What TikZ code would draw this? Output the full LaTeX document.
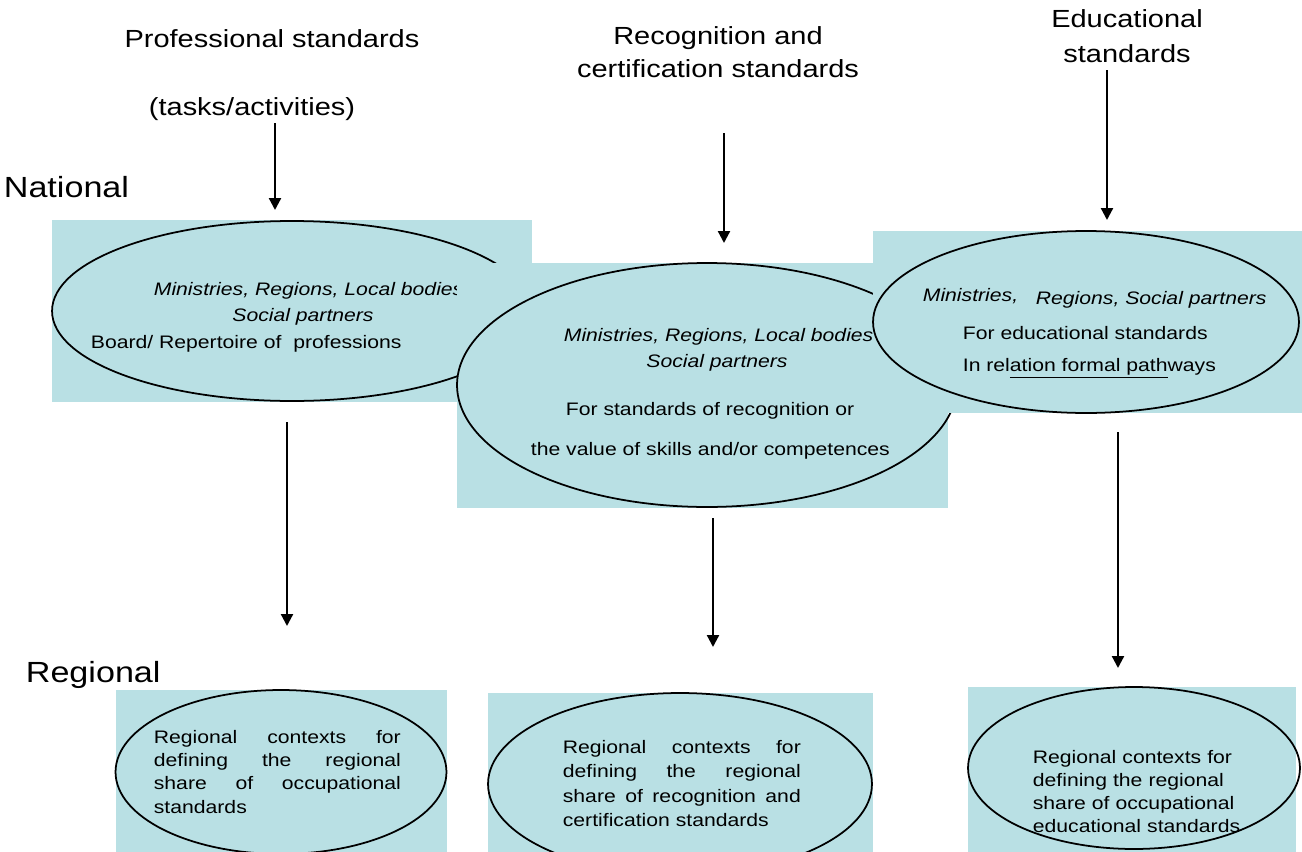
\documentclass[tikz,border=0pt]{standalone}
\usepackage{fontspec}
\setmainfont{Liberation Sans}[FakeStretch=1.17]
\usetikzlibrary{shapes.geometric,arrows.meta}
\definecolor{panelblue}{RGB}{185,224,228}
\tikzset{
every picture/.style={
line width=1pt
}}

\begin{document}
\begin{tikzpicture}[x=0.02cm, y=-0.02cm,
oval/.style = {ellipse, draw=black, inner sep=0pt},
head/.style = {font=\fontsize{14.1}{17}\selectfont, inner sep=0pt, anchor=base},
level/.style = {font=\fontsize{16.6}{20}\selectfont, inner sep=0pt, anchor=base west},
txt/.style = {font=\fontsize{10.3}{12.4}\selectfont, inner sep=0pt, anchor=base west},
who/.style = {txt, font=\fontsize{10.3}{12.4}\selectfont\itshape},
down/.style = {-{Triangle[width=0.24cm,length=0.24cm]}, line width=1.3pt}]

\useasboundingbox (0,0) rectangle (1302,852);

% column headings
\node[head] (prof) at (272,48) {Professional standards};
\node[head] (tasks) at (252,115) {(tasks/activities)};
\node[head] (recog) at (718,44) {Recognition and};
\node[head] (recog2) at (718,77) {certification standards};
\node[head] (edu) at (1127,28) {Educational};
\node[head] (edu2) at (1127,62) {standards};

\node[level] (national) at (3,197) {National};
\node[level] (regional) at (25,682) {Regional};

% national level, left to right (each panel hides part of the one before)
\fill[panelblue] (52,220) rectangle (532,402);
\node[oval, minimum width=9.6cm, minimum height=3.6cm] (natA) at (292,311) {};
\node[who] (natA1) at (153,295) {Ministries, Regions, Local bodies};
\node[who, anchor=base] (natA2) at (303,321) {Social partners};
\node[txt] (natA3) at (90,348) {Board/ Repertoire of\ \ professions};

\fill[panelblue] (457,263) rectangle (948,508);
\node[oval, minimum width=10cm, minimum height=4.88cm] (natB) at (707,385) {};
\node[who] (natB1) at (563,341) {Ministries, Regions, Local bodies};
\node[who, anchor=base] (natB2) at (717,367) {Social partners};
\node[txt] (natB3) at (565,415) {For standards of recognition or};
\node[txt] (natB4) at (530,455) {the value of skills and/or competences};

\fill[panelblue] (873,231) rectangle (1302,413);
\node[oval, minimum width=8.52cm, minimum height=3.64cm] (natC) at (1086,322) {};
\node[who] (natC1) at (922,301) {Ministries,};
\node[who] (natC2) at (1035,304) {Regions, Social partners};
\node[txt] (natC3) at (962,339) {For educational standards};
\node[txt] (natC4) at (962,371) {In rel\underline{ation formal path}ways};

% regional level
\fill[panelblue] (116,690) rectangle (447,852);
\node[oval, minimum width=6.62cm, minimum height=3.28cm] (regA) at (281,772) {};
\node[txt, text width=4.94cm, align=justify, font=\fontsize{10.3}{13.3}\selectfont] (regA1) at (153,743)
{Regional contexts for\linebreak defining the regional\linebreak share of occupational\linebreak standards};

\fill[panelblue] (488,693) rectangle (873,852);
\node[oval, minimum width=7.68cm, minimum height=3.64cm] (regB) at (680,784) {};
\node[txt, text width=4.76cm, align=justify, font=\fontsize{10.3}{14}\selectfont] (regB1) at (562,753)
{Regional contexts for\linebreak defining the regional\linebreak share of recognition and\linebreak certification standards};

\fill[panelblue] (968,687) rectangle (1296,852);
\node[oval, minimum width=6.64cm, minimum height=3.24cm] (regC) at (1134,768) {};
\node[txt, text width=5cm, align=left, font=\fontsize{10.3}{13.1}\selectfont] (regC1) at (1032,763)
{Regional contexts for\\ defining the regional\\ share of occupational\\ educational standards};

% arrows
\coordinate (a1) at (275,123); \coordinate (b1) at (275,210);
\coordinate (a2) at (724,133); \coordinate (b2) at (724,243);
\coordinate (a3) at (1107,70); \coordinate (b3) at (1107,220);
\coordinate (a4) at (287,422); \coordinate (b4) at (287,626);
\coordinate (a5) at (713,518); \coordinate (b5) at (713,647);
\coordinate (a6) at (1118,432); \coordinate (b6) at (1118,668);
\draw[down] (a1) -- (b1);
\draw[down] (a2) -- (b2);
\draw[down] (a3) -- (b3);
\draw[down] (a4) -- (b4);
\draw[down] (a5) -- (b5);
\draw[down] (a6) -- (b6);

\end{tikzpicture}
\end{document}
